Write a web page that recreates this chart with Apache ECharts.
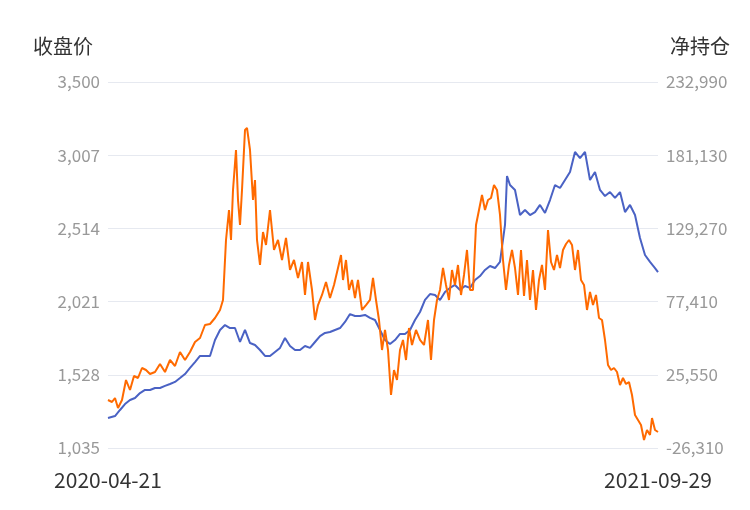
<!DOCTYPE html>
<html>
<head>
<meta charset="utf-8">
<script src="https://cdn.jsdelivr.net/npm/echarts@6/dist/echarts.min.js"></script>
<style>
html, body { margin: 0; padding: 0; background: #fff; }
#main { width: 750px; height: 510px; }
</style>
</head>
<body>
<div id="main"></div>
<script>
var dateLabels = ['2020-04-21', '2021-09-29'];
var leftTicks = [1035, 1528, 2021, 2514, 3007, 3500];
var rightTicks = [-26310, 25550, 77410, 129270, 181130, 232990];
var dayRange = [0, 550]; // 时间跨度(相对刻度)

// 收盘价
var closeDays = [0, 7, 12, 17, 22, 27, 32, 37, 42, 47, 52, 57, 62, 67, 72, 77, 82, 87, 92, 97,
	102, 107, 112, 117, 122, 127, 132, 137, 142, 147, 152, 157, 162, 167, 172, 177, 182, 187, 192, 197,
	202, 207, 212, 217, 222, 227, 232, 237, 242, 247, 252, 257, 262, 267, 272, 277, 282, 287, 292, 297,
	302, 307, 312, 317, 322, 327, 332, 337, 342, 347, 352, 357, 362, 367, 372, 377, 382, 387, 392, 397,
	399, 402, 407, 412, 417, 422, 427, 432, 437, 442, 447, 452, 457, 462, 467, 472, 477, 482, 487, 492,
	497, 502, 507, 512, 517, 522, 527, 532, 537, 542, 547, 550];
var closePrice = [1237, 1250, 1291, 1331, 1358, 1372, 1405, 1426, 1426, 1439, 1439, 1453, 1466, 1480, 1506, 1533, 1574, 1614, 1655, 1655,
	1655, 1762, 1830, 1863, 1843, 1843, 1749, 1830, 1742, 1729, 1695, 1655, 1655, 1682, 1709, 1776, 1722, 1695, 1695, 1722,
	1709, 1749, 1789, 1810, 1816, 1830, 1843, 1884, 1937, 1924, 1924, 1931, 1911, 1897, 1830, 1762, 1735, 1762, 1803, 1803,
	1830, 1897, 1951, 2032, 2072, 2065, 2032, 2086, 2113, 2133, 2099, 2126, 2113, 2166, 2193, 2234, 2261, 2247, 2288, 2537,
	2867, 2806, 2773, 2604, 2638, 2604, 2624, 2672, 2618, 2705, 2806, 2786, 2840, 2894, 3029, 2988, 3029, 2840, 2894, 2773,
	2732, 2759, 2719, 2759, 2624, 2672, 2604, 2449, 2335, 2288, 2247, 2220];

// 净持仓
var netDays = [0, 4, 7, 10, 14, 18, 22, 26, 30, 34, 38, 42, 47, 52, 57, 62, 67, 72, 77, 82,
	87, 92, 97, 102, 107, 112, 115, 118, 121, 123, 125, 128, 130, 132, 134, 137, 139, 142, 145, 147,
	149, 152, 155, 158, 162, 166, 170, 174, 178, 182, 186, 190, 194, 197, 200, 204, 207, 210, 214, 218,
	222, 226, 230, 233, 235, 238, 241, 244, 247, 250, 254, 258, 262, 265, 268, 271, 274, 277, 280, 283,
	286, 289, 292, 295, 298, 301, 304, 308, 312, 316, 320, 323, 326, 329, 332, 335, 338, 341, 344, 347,
	350, 353, 356, 359, 362, 365, 368, 371, 374, 377, 380, 383, 386, 389, 392, 395, 398, 401, 404, 407,
	410, 413, 416, 419, 422, 425, 428, 431, 434, 437, 440, 443, 446, 449, 452, 455, 458, 461, 464, 467,
	470, 473, 476, 479, 482, 485, 488, 491, 494, 497, 500, 503, 506, 509, 512, 515, 518, 521, 524, 527,
	530, 533, 536, 539, 542, 544, 547, 550];
var netPosition = [7698, 6281, 9115, 2030, 7698, 21868, 14783, 24702, 23285, 30370, 28953, 26119, 27536, 33204, 27536, 36038, 31787, 41706, 36038, 41706,
	48791, 51625, 60836, 61544, 65795, 71463, 78548, 121058, 142313, 121058, 156483, 184823, 149398, 131686, 156483, 198993, 200410, 184823, 149398, 163568,
	121058, 103346, 126726, 117516, 142313, 113973, 121058, 106888, 122475, 99803, 106888, 94135, 105471, 82091, 105471, 85633, 64378, 74996, 82091, 91301,
	79965, 89176, 101220, 110431, 92718, 106888, 85633, 92718, 79965, 92718, 71463, 74996, 78548, 94135, 78548, 64378, 43123, 57293, 43123, 11241,
	28953, 21868, 43123, 50208, 36038, 58710, 46666, 57293, 50208, 46666, 64378, 36038, 64378, 78548, 85633, 101220, 89176, 78548, 99803, 89176,
	103346, 82091, 96261, 113973, 85633, 85633, 131686, 142313, 152941, 142313, 149398, 150815, 160026, 156483, 138771, 106888, 85633, 103346, 113973, 101220,
	82091, 113973, 81382, 106888, 78548, 99803, 71463, 92718, 103346, 85633, 128143, 105471, 99803, 110431, 101220, 113973, 118224, 121058, 117516, 99803,
	113973, 92718, 89176, 71463, 84216, 74996, 82091, 65795, 64378, 50208, 32496, 28953, 30370, 27536, 18326, 23285, 19034, 20451, 11241, -2930,
	-6472, -10015, -20642, -13557, -17100, -5055, -13557, -14974];

var chart = echarts.init(document.getElementById('main'));

function pairs(xs, ys) {
	return ys.map(function (v, i) { return [xs[i], v]; });
}
function fmt(v) {
	return echarts.format.addCommas(v);
}

var option = {
	animation: false,
	grid: { left: 108, right: 92, top: 82, bottom: 62 },
	graphic: [
		{ type: 'text', left: 33, top: 36, style: { text: '收盘价', fontSize: 20, fill: '#333', fontFamily: 'Noto Sans CJK SC' } },
		{ type: 'text', right: 20, top: 36, style: { text: '净持仓', fontSize: 20, fill: '#333', fontFamily: 'Noto Sans CJK SC' } }
	],
	xAxis: {
		type: 'value',
		min: dayRange[0], max: dayRange[1],
		axisLine: { show: false },
		axisTick: { show: false },
		splitLine: { show: false },
		axisLabel: {
			customValues: dayRange,
			fontSize: 21,
			color: '#333',
			margin: 22,
			fontFamily: 'Noto Sans CJK SC',
			formatter: function (v) {
				return v === dayRange[0] ? dateLabels[0] : dateLabels[1];
			}
		}
	},
	yAxis: [{
		type: 'value',
		min: 1035, max: 3500,
		axisLine: { show: false },
		axisTick: { show: false, customValues: leftTicks },
		axisLabel: { customValues: leftTicks, formatter: fmt, color: '#999', fontSize: 17, margin: 8, fontFamily: 'Noto Sans CJK SC' },
		splitLine: { lineStyle: { color: '#e6e9f0' } }
	}, {
		type: 'value',
		min: -26310, max: 232990,
		axisLine: { show: false },
		axisTick: { show: false, customValues: rightTicks },
		axisLabel: { customValues: rightTicks, formatter: fmt, color: '#999', fontSize: 17, margin: 8, fontFamily: 'Noto Sans CJK SC' },
		splitLine: { show: false }
	}],
	series: [{
		name: '收盘价',
		type: 'line',
		yAxisIndex: 0,
		showSymbol: false,
		data: pairs(closeDays, closePrice),
		lineStyle: { color: '#4a62c4', width: 2 },
		itemStyle: { color: '#4a62c4' }
	}, {
		name: '净持仓',
		type: 'line',
		yAxisIndex: 1,
		showSymbol: false,
		data: pairs(netDays, netPosition),
		lineStyle: { color: '#ff6a00', width: 2 },
		itemStyle: { color: '#ff6a00' }
	}]
};
chart.setOption(option);
</script>
</body>
</html>
